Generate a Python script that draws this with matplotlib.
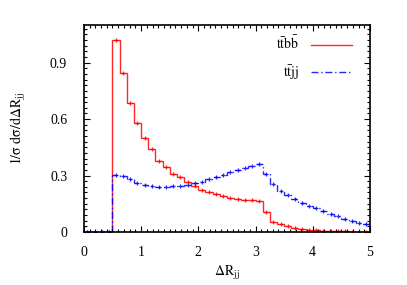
import numpy as np
import matplotlib
matplotlib.use("Agg")
import matplotlib.pyplot as plt
from matplotlib.ticker import MultipleLocator, FuncFormatter

plt.rcParams["font.family"] = ["Liberation Serif", "DejaVu Serif"]
plt.rcParams["mathtext.fontset"] = "stix"

# | Data |-------------------------------------------------------------------------------------------------------------|
edges = np.linspace(0.0, 5.0, 41)  # 40 bins of width 0.125

ttbb = [0, 0, 0, 0,
        1.02, 0.845, 0.685, 0.58, 0.50, 0.44, 0.38, 0.345,
        0.31, 0.29, 0.265, 0.245, 0.225, 0.212, 0.20, 0.19,
        0.183, 0.178, 0.172, 0.168, 0.166, 0.105, 0.055, 0.04,
        0.03, 0.022, 0.016, 0.012, 0.009, 0.007, 0.005, 0.004,
        0.003, 0.002, 0.0015, 0.001]

ttjj = [0, 0, 0, 0,
        0.302, 0.297, 0.28, 0.262, 0.25, 0.243, 0.24, 0.24,
        0.242, 0.245, 0.25, 0.258, 0.268, 0.28, 0.292, 0.305,
        0.318, 0.33, 0.342, 0.352, 0.362, 0.31, 0.255, 0.22,
        0.195, 0.175, 0.155, 0.14, 0.125, 0.11, 0.095, 0.083,
        0.07, 0.06, 0.05, 0.04]

labels = [r"$\mathrm{t\bar{t}b\bar{b}}$", r"$\mathrm{t\bar{t}jj}$"]
# |--------------------------------------------------------------------------------------------------------------------|

centers = 0.5 * (edges[:-1] + edges[1:])
dashdot = (0, (5, 2, 1, 2))

fig = plt.figure(figsize=(4.07, 2.85), dpi=100)
ax = fig.add_axes([0.206, 0.186, 0.703, 0.726])

ax.stairs(ttbb, edges, color="red", lw=1.0, alpha=0.85)
ax.plot(centers, ttbb, "+", color="red", ms=3.5, mew=0.9, alpha=0.85)
ax.plot([], [], color="red", lw=1.0, alpha=0.85, label=labels[0])

ax.stairs(ttjj, edges, color="blue", lw=1.0, alpha=0.85, linestyle=dashdot)
ax.plot(centers, ttjj, "+", color="blue", ms=3.5, mew=0.9, alpha=0.85)
ax.plot([], [], color="blue", lw=1.0, alpha=0.85, linestyle=dashdot, label=labels[1])

ax.set_xlim(0, 5)
ax.set_ylim(0, 1.1)
ax.xaxis.set_major_locator(MultipleLocator(1))
ax.xaxis.set_minor_locator(MultipleLocator(0.1))
ax.yaxis.set_major_locator(MultipleLocator(0.3))
ax.yaxis.set_minor_locator(MultipleLocator(0.03))
ax.yaxis.set_major_formatter(FuncFormatter(lambda v, p: "0" if abs(v) < 1e-9 else f"{v:.1f}"))

ax.tick_params(which="both", direction="in", top=True, right=True, labelsize=10, width=0.8)
ax.tick_params(which="major", length=4)
ax.tick_params(which="minor", length=2)
ax.tick_params(axis="x", which="major", pad=10)
ax.tick_params(axis="y", which="major", pad=12)
for s in ax.spines.values():
    s.set_linewidth(1.2)

ax.set_xlabel(r"$\Delta\mathrm{R_{jj}}$", fontsize=10, labelpad=4)
ax.set_ylabel(r"$\mathrm{1/\sigma\ d\sigma/d\Delta R_{jj}}$", fontsize=10, labelpad=16)

ax.legend(loc="upper right", bbox_to_anchor=(0.972, 1.0), frameon=False, markerfirst=False,
          fontsize=10, handlelength=3.0, labelspacing=0.8, borderaxespad=0.3)

fig.savefig("out.png", dpi=100)
